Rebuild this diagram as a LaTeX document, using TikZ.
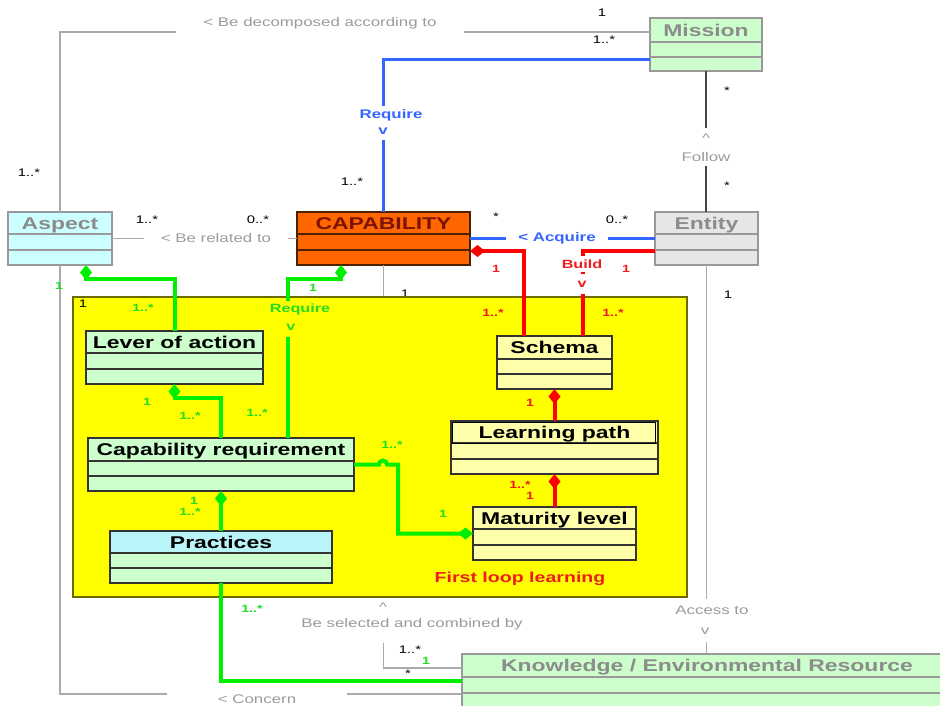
\documentclass[tikz,border=0pt]{standalone}
\usepackage{fontspec}
\setmainfont[FakeStretch=1.35]{Liberation Sans}
\usetikzlibrary{arrows.meta}
\definecolor{clgreen}{HTML}{CCFFCC}
\definecolor{ccyan}{HTML}{CCFFFF}
\definecolor{pcyan}{HTML}{B8F4F8}
\definecolor{corange}{HTML}{FF6600}
\definecolor{cdarkred}{HTML}{7A1400}
\definecolor{cgreybox}{HTML}{E6E6E6}
\definecolor{cyellow}{HTML}{FFFF00}
\definecolor{cyborder}{HTML}{6B6B00}
\definecolor{clyellow}{HTML}{FFFFAA}
\definecolor{cgreenl}{HTML}{00EE00}
\definecolor{cgreent}{HTML}{22DD22}
\definecolor{cred}{HTML}{FF0000}
\definecolor{credt}{HTML}{EE1C1C}
\definecolor{cblue}{HTML}{3366FF}
\definecolor{cgline}{HTML}{ABABAB}
\definecolor{cgtext}{HTML}{9B9B9B}
\definecolor{ctgray}{HTML}{8C8C8C}
\definecolor{cbgray}{HTML}{999999}
\definecolor{cdark}{HTML}{333333}
\definecolor{cfollow}{HTML}{444444}
\definecolor{cbrown}{HTML}{4D2000}

\tikzset{
  classbox/.style={rectangle, inner sep=0pt, outer sep=0pt, line width=1.2pt},
  classline/.style={line width=1.2pt},
  classtitle/.style={font=\bfseries\fontsize{17}{20}\selectfont, inner sep=0pt},
  greycls/.style={fill=clgreen, draw=cbgray, text=ctgray},
  aspectcls/.style={fill=ccyan, draw=cbgray, text=ctgray},
  capcls/.style={fill=corange, draw=cbrown, text=cdarkred},
  entitycls/.style={fill=cgreybox, draw=cbgray, text=ctgray},
  greencls/.style={fill=clgreen, draw=cdark, text=black},
  yelcls/.style={fill=clyellow, draw=cdark, text=black},
  gline/.style={draw=cgline, line width=1.6pt},
  dline/.style={draw=cfollow, line width=1.6pt},
  bline/.style={draw=cblue, line width=3pt},
  rline/.style={draw=cred, line width=4pt},
  grline/.style={draw=cgreenl, line width=4pt},
  dia/.tip={Diamond[length=15pt,width=12pt]},
  bmult/.style={font=\fontsize{11}{13}\selectfont, text=black, inner sep=1pt},
  gmult/.style={font=\bfseries\fontsize{10.5}{12}\selectfont, text=cgreent, inner sep=1pt},
  rmult/.style={font=\bfseries\fontsize{10.5}{12}\selectfont, text=credt, inner sep=1pt},
  glbl/.style={font=\fontsize{12.5}{15}\selectfont, text=cgtext, fill=white, inner sep=2pt},
  blbl/.style={font=\bfseries\fontsize{12.5}{15}\selectfont, text=cblue, fill=white, inner sep=2pt},
  rlbl/.style={font=\bfseries\fontsize{12}{14}\selectfont, text=credt, fill=white, inner sep=2pt},
  grlbl/.style={font=\bfseries\fontsize{12}{14}\selectfont, text=cgreent, fill=cyellow, inner sep=1pt},
}

\newcommand\umlclass[8]{%
  \node[classbox,#8,minimum width=#4pt,minimum height=#5pt,anchor=north west] (#1) at (#2,#3) {};
  \draw[classline,#8,fill=none] ([yshift=-#6pt]#1.north west) -- ([yshift=-#6pt]#1.north east);
  \draw[classline,#8,fill=none] ([yshift=-#7pt]#1.north west) -- ([yshift=-#7pt]#1.north east);
}
\newcommand\umltitle[4]{%
  \pgfmathsetmacro\ttoff{#2/2+6}%
  \node[classtitle,#3,draw=none,fill=none,anchor=base] (#1-t) at ([yshift=-\ttoff pt]#1.north) {#4};
}

\begin{document}
\begin{tikzpicture}[x=1pt,y=-1pt]
\useasboundingbox (0,0) rectangle (940,705);
\clip (0,0) rectangle (940,705);
\fill[white] (0,0) rectangle (940,705);

% ---- outer classes
\umlclass{mission}{650}{18}{112}{53}{24}{39}{greycls}
\umltitle{mission}{24}{greycls}{Mission}
\umlclass{aspect}{8}{212}{104}{53}{22}{38}{aspectcls}
\umltitle{aspect}{22}{aspectcls}{Aspect}
\umlclass{capability}{297}{212}{173}{53}{22}{38}{capcls}
\umltitle{capability}{22}{capcls}{CAPABILITY}
\umlclass{entity}{655}{212}{103}{53}{22}{38}{entitycls}
\umltitle{entity}{22}{entitycls}{Entity}
\umlclass{knowledge}{462}{654}{490}{60}{23}{39}{greycls}
\umltitle{knowledge}{23}{greycls}{Knowledge / Environmental Resource}

% ---- gray / blue / black associations
\draw[gline] ([yshift=12.5pt]mission.west) -| (aspect.north);
\node[glbl, anchor=base, inner xsep=27pt, inner ysep=8pt] (decomp) at (320,26) {< Be decomposed according to};
\draw[gline] (aspect.south) |- ([yshift=-10pt]knowledge.west);
\node[glbl, inner xsep=51pt, inner ysep=6pt] (concern) at (257,699) {< Concern};
\draw[gline] (aspect.east) -- (capability.west);
\node[glbl, inner xsep=17pt, inner ysep=5pt] (related) at (216,238) {< Be related to};
\draw[bline] ([yshift=-14.5pt]mission.west) -| (capability.north);
\node[blbl, inner ysep=3pt] (req1) at (391,115) {Require};
\node[blbl, inner ysep=6pt] (req1v) at (383,131) {v};
\draw[dline] (mission.south) -- (mission.south |- entity.north);
\node[glbl, minimum height=20pt] (followc) at (706,138) {\textasciicircum};
\node[glbl, inner ysep=4pt] (follow) at (706,157) {Follow};
\draw[bline] (capability.east) -- (entity.west);
\node[blbl, inner xsep=12pt, inner ysep=4pt] (acquire) at (557,238) {< Acquire};
\draw[gline] (capability.south) |- ([yshift=16pt]knowledge.west);
\node[glbl, minimum height=38pt] (selected) at (412,624) {Be selected and combined by};
\node[glbl, minimum height=20pt] (selc) at (383,607) {\textasciicircum};
\draw[gline] (entity.south) -- (entity.south |- knowledge.north);
\node[glbl, minimum height=22pt] (accessv) at (705,631) {v};
\node[glbl, minimum height=22pt] (access) at (712,610) {Access to};
\node[bmult] (m0) at (405,294) {1};

% ---- yellow package
\node[draw=cyborder, fill=cyellow, line width=1.5pt, minimum width=614pt, minimum height=300pt, anchor=north west, inner sep=0pt, outer sep=0pt] (loop) at (73,297) {};
\node[font=\bfseries\fontsize{14.5}{17}\selectfont, text=credt] (looplbl) at (520,579) {First loop learning};

% ---- inner classes
\umlclass{lever}{86}{331}{177}{53}{22}{38}{greencls}
\umltitle{lever}{22}{greencls}{Lever of action}
\umlclass{capreq}{88}{438}{266}{53}{23}{38}{greencls}
\umltitle{capreq}{23}{greencls}{Capability requirement}
\umlclass{practices}{110}{531}{222}{52}{22}{37}{greencls}
\draw[classline, draw=cdark, fill=pcyan] (practices.north west) rectangle ([yshift=-22pt]practices.north east);
\umltitle{practices}{22}{greencls}{Practices}
\umlclass{schema}{497}{336}{115}{53}{23}{38}{yelcls}
\umltitle{schema}{23}{yelcls}{Schema}
\umlclass{learning}{451}{421}{207}{53}{22}{38}{yelcls}
\draw[line width=1pt, draw=black] ([xshift=1.5pt,yshift=-1.5pt]learning.north west) rectangle ([xshift=-2.5pt,yshift=-22pt]learning.north east);
\umltitle{learning}{22}{yelcls}{Learning path}
\umlclass{maturity}{473}{507}{163}{53}{22}{38}{yelcls}
\umltitle{maturity}{22}{yelcls}{Maturity level}

% ---- red associations
\draw[rline, {dia}-] ([yshift=-12.5pt]capability.east) -| ([xshift=-30.5pt]schema.north);
\draw[rline] ([yshift=-12.5pt]entity.west) -| ([xshift=28.5pt]schema.north);
\node[rlbl, inner ysep=3.5pt] (build) at (582,264) {Build};
\node[rlbl, inner ysep=7pt] (buildv) at (582,284) {v};
\draw[rline, {dia}-] (schema.south) -- (learning.north);
\draw[rline, {dia}-] (learning.south) -- (maturity.north);

% ---- green associations
\draw[grline, {dia}-] ([xshift=26pt]aspect.south) -- ++(0,14) -| (lever.north);
\draw[grline, {dia}-] ([xshift=-42.5pt]capability.south) -- ++(0,14) -| ([xshift=67pt]capreq.north);
\node[grlbl, inner ysep=2pt] (req2) at (300,309) {Require};
\node[grlbl, minimum height=20pt] (req2v) at (291,327) {v};
\draw[grline, {dia}-] (lever.south) -- ++(0,14) -| (capreq.north);
\draw[grline, {dia}-] (capreq.south) -- (practices.north);
\draw[grline, -{dia}] (capreq.east) -- ++(25,0) arc[start angle=180, end angle=0, radius=4pt] -- ++(11,0) |- (maturity.west);
\draw[grline] (practices.south) |- ([yshift=3pt]knowledge.west);

% ---- multiplicities (black)
\node[bmult] (m1) at (602,13) {1};
\node[bmult] (m2) at (604,40) {1..*};
\node[bmult] (m3) at (29,173) {1..*};
\node[bmult] (m4) at (352,182) {1..*};
\node[bmult] (m5) at (727,91) {*};
\node[bmult] (m6) at (727,186) {*};
\node[bmult] (m7) at (147,220) {1..*};
\node[bmult] (m8) at (258,220) {0..*};
\node[bmult] (m9) at (496,217) {*};
\node[bmult] (m10) at (617,220) {0..*};
\node[bmult] (m11) at (728,295) {1};
\node[bmult] (m12) at (83,304) {1};
\node[bmult] (m13) at (410,650) {1..*};
\node[bmult] (m14) at (408,674) {*};

% ---- multiplicities (red)
\node[rmult] (r1) at (496,269) {1};
\node[rmult] (r2) at (626,269) {1};
\node[rmult] (r3) at (493,313) {1..*};
\node[rmult] (r4) at (613,313) {1..*};
\node[rmult] (r5) at (530,403) {1};
\node[rmult, inner sep=0pt] (r6) at (520,485) {1..*};
\node[rmult, inner sep=0pt] (r7) at (530,496) {1};

% ---- multiplicities (green)
\node[gmult] (g1) at (59,286) {1};
\node[gmult] (g2) at (143,308) {1..*};
\node[gmult] (g3) at (313,288) {1};
\node[gmult] (g4) at (147,402) {1};
\node[gmult] (g5) at (190,416) {1..*};
\node[gmult] (g6) at (257,413) {1..*};
\node[gmult, inner sep=0pt] (g7) at (190,512) {1..*};
\node[gmult, inner sep=0pt] (g8) at (194,501) {1};
\node[gmult] (g9) at (392,445) {1..*};
\node[gmult] (g10) at (443,514) {1};
\node[gmult] (g11) at (252,609) {1..*};
\node[gmult] (g12) at (426,661) {1};
\end{tikzpicture}
\end{document}
